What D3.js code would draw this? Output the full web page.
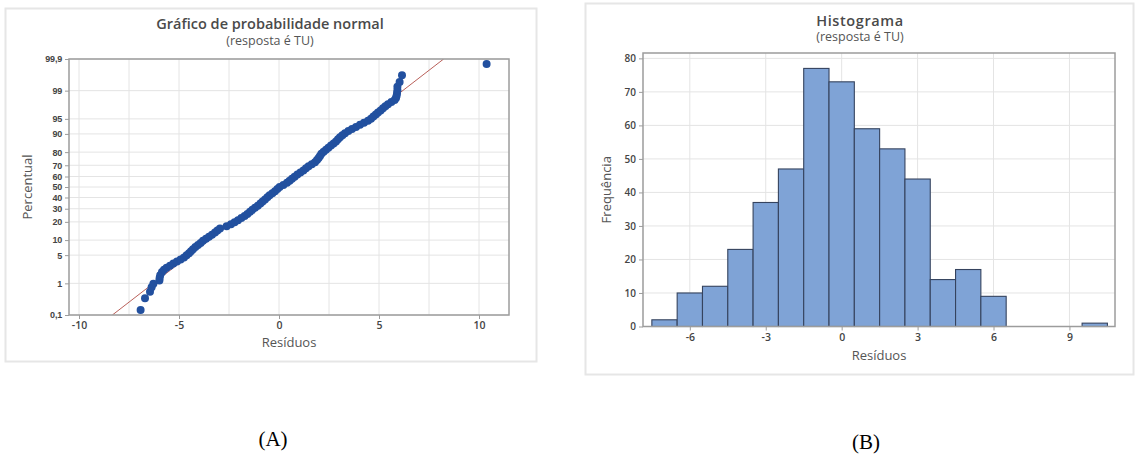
<!DOCTYPE html>
<html>
<head>
<meta charset="utf-8">
<script src="https://cdn.jsdelivr.net/npm/d3@7"></script>
<style>
  body { margin: 0; background: #fff; }
  svg text { font-family: 'Open Sans', 'Noto Sans', sans-serif; }
  .caption { font-family: 'Liberation Serif', 'DejaVu Serif', serif !important; }
</style>
</head>
<body>
<svg id="chart" width="1137" height="460"></svg>
<script>
// normal probability plot: residuals, with their percent position
const probResid = [-6.92, -6.70, -6.45, -6.37, -6.28, -5.98, -5.97, -5.94, -5.85, -5.75,
  -5.62, -5.45, -5.28, -5.10, -4.92, -4.75, -4.62, -4.50, -4.40, -4.30,
  -4.18, -4.05, -3.92, -3.80, -3.65, -3.50, -3.35, -3.20, -3.08, -2.95,
  -2.62, -2.40, -2.22, -2.05, -1.88, -1.72, -1.58, -1.45, -1.33, -1.20,
  -1.06, -0.93, -0.82, -0.70, -0.58, -0.47, -0.33, -0.20, -0.08, 0.03,
  0.22, 0.40, 0.53, 0.65, 0.78, 0.92, 1.07, 1.22, 1.35, 1.48,
  1.64, 1.80, 1.90, 1.98, 2.05, 2.12, 2.23, 2.35, 2.47, 2.60,
  2.73, 2.85, 2.95, 3.05, 3.17, 3.30, 3.47, 3.65, 3.85, 4.05,
  4.25, 4.45, 4.60, 4.72, 4.84, 4.95, 5.08, 5.20, 5.32, 5.45,
  5.62, 5.78, 5.85, 5.88, 5.90, 5.92, 5.92, 6.03, 6.15, 10.38];
const probPct = [0.15, 0.36, 0.57, 0.77, 0.98, 1.2, 1.4, 1.65, 2.0, 2.28,
  2.56, 2.87, 3.22, 3.59, 4.01, 4.46, 4.95, 5.48, 6.06, 6.68,
  7.35, 8.08, 8.85, 9.68, 10.56, 11.51, 12.51, 13.57, 14.69, 15.87,
  17.11, 18.41, 19.77, 21.19, 22.66, 24.2, 25.78, 27.43, 29.12, 30.85,
  32.64, 34.46, 36.32, 38.21, 40.13, 42.07, 44.04, 46.02, 48.01, 50,
  51.99, 53.98, 55.96, 57.93, 59.87, 61.79, 63.68, 65.54, 67.36, 69.15,
  70.88, 72.57, 74.22, 75.8, 77.34, 78.81, 80.23, 81.59, 82.89, 84.13,
  85.31, 86.43, 87.49, 88.49, 89.44, 90.32, 91.15, 91.92, 92.65, 93.32,
  93.94, 94.52, 95.05, 95.54, 95.99, 96.41, 96.78, 97.13, 97.44, 97.72,
  97.98, 98.21, 98.42, 98.61, 98.81, 99.02, 99.23, 99.44, 99.65, 99.85];
const fitMean = -0.05;
const fitSd = 2.68;
const probTicks = [0.1, 1, 5, 10, 20, 30, 40, 50, 60, 70, 80, 90, 95, 99, 99.9];
const probXTicks = [-10, -5, 0, 5, 10];
const probXGrid = [-10, -7.5, -5, -2.5, 0, 2.5, 5, 7.5, 10];

// histogram
const binCenters = [-7, -6, -5, -4, -3, -2, -1, 0, 1, 2, 3, 4, 5, 6, 7, 8, 9, 10];
const binCounts = [2, 10, 12, 23, 37, 47, 77, 73, 59, 53, 44, 14, 17, 9, 0, 0, 0, 1];
const histXTicks = [-6, -3, 0, 3, 6, 9];
const histYTicks = [0, 10, 20, 30, 40, 50, 60, 70, 80];

const svg = d3.select('#chart');
const textCol = '#444';
const gridCol = '#e4e4e4';
const frameCol = '#9c9c9c';

// inverse normal cdf (Acklam)
function probit(p) {
  const a = [-39.69683028665376, 220.9460984245205, -275.9285104469687, 138.357751867269, -30.66479806614716, 2.506628277459239];
  const b = [-54.47609879822406, 161.5858368580409, -155.6989798598866, 66.80131188771884, -13.28068155288572];
  const c = [-0.007784894002430293, -0.3223964580411365, -2.400758277161838, -2.549732539343734, 4.374664141464968, 2.938163982698783];
  const d = [0.007784695709041462, 0.3224671290700398, 2.445134137142996, 3.754408661907416];
  const plow = 0.02425;
  let q, r;
  if (p < plow) {
    q = Math.sqrt(-2 * Math.log(p));
    return (((((c[0] * q + c[1]) * q + c[2]) * q + c[3]) * q + c[4]) * q + c[5]) /
      ((((d[0] * q + d[1]) * q + d[2]) * q + d[3]) * q + 1);
  }
  if (p <= 1 - plow) {
    q = p - 0.5;
    r = q * q;
    return (((((a[0] * r + a[1]) * r + a[2]) * r + a[3]) * r + a[4]) * r + a[5]) * q /
      (((((b[0] * r + b[1]) * r + b[2]) * r + b[3]) * r + b[4]) * r + 1);
  }
  q = Math.sqrt(-2 * Math.log(1 - p));
  return -(((((c[0] * q + c[1]) * q + c[2]) * q + c[3]) * q + c[4]) * q + c[5]) /
    ((((d[0] * q + d[1]) * q + d[2]) * q + d[3]) * q + 1);
}

const fmtComma = (v) => String(v).replace('.', ',');

function styleAxis(ax, size) {
  ax.select('.domain').remove();
  ax.selectAll('line').attr('stroke', frameCol);
  ax.selectAll('text').attr('fill', textCol).attr('font-size', size).attr('font-weight', 600);
}

// ---------- panel A ----------
svg.append('rect')
  .attr('x', 5.5).attr('y', 8.5).attr('width', 531).attr('height', 353)
  .attr('fill', '#fff').attr('stroke', '#e6e6e6').attr('stroke-width', 2);

const pa = {left: 69, right: 509, top: 59, bottom: 315};
const xA = d3.scaleLinear().domain([-10.5, 11.5]).range([pa.left, pa.right]);
const zMax = probit(0.999);
const yA = d3.scaleLinear().domain([-zMax, zMax]).range([pa.bottom, pa.top]);
const yPct = (p) => yA(probit(p / 100));

const gA = svg.append('g');

gA.selectAll('.hgrid').data(probTicks).join('line')
  .attr('x1', pa.left).attr('x2', pa.right)
  .attr('y1', (d) => yPct(d)).attr('y2', (d) => yPct(d))
  .attr('stroke', gridCol).attr('stroke-width', 1);
gA.selectAll('.vgrid').data(probXGrid).join('line')
  .attr('x1', (d) => xA(d)).attr('x2', (d) => xA(d))
  .attr('y1', pa.top).attr('y2', pa.bottom)
  .attr('stroke', gridCol).attr('stroke-width', 1);

svg.append('clipPath').attr('id', 'clipA')
  .append('rect').attr('x', pa.left).attr('y', pa.top)
  .attr('width', pa.right - pa.left).attr('height', pa.bottom - pa.top);

// fitted line
gA.append('line')
  .attr('clip-path', 'url(#clipA)')
  .attr('x1', xA(fitMean - fitSd * zMax)).attr('y1', yA(-zMax))
  .attr('x2', xA(fitMean + fitSd * zMax)).attr('y2', yA(zMax))
  .attr('stroke', '#b9605a').attr('stroke-width', 1);

gA.selectAll('.pt').data(probResid).join('circle')
  .attr('cx', (d) => xA(d))
  .attr('cy', (d, i) => yPct(probPct[i]))
  .attr('r', 4)
  .attr('fill', '#22509f');

gA.append('rect')
  .attr('x', pa.left).attr('y', pa.top)
  .attr('width', pa.right - pa.left).attr('height', pa.bottom - pa.top)
  .attr('fill', 'none').attr('stroke', frameCol).attr('stroke-width', 1.5);

const axAy = gA.append('g')
  .attr('transform', `translate(${pa.left},0)`)
  .call(d3.axisLeft(yA).tickValues(probTicks.map((p) => probit(p / 100)))
    .tickFormat((d, i) => fmtComma(probTicks[i])).tickSize(4).tickSizeOuter(0));
const axAx = gA.append('g')
  .attr('transform', `translate(0,${pa.bottom})`)
  .call(d3.axisBottom(xA).tickValues(probXTicks).tickFormat((d) => String(d))
    .tickSize(4).tickSizeOuter(0));
styleAxis(axAy, 9);
styleAxis(axAx, 10.5);
// tight stack of labels near 50%: use a font with compact line box
axAy.selectAll('text').style('font-family', "'Liberation Sans', Arial, sans-serif")
  .attr('font-weight', 700).attr('letter-spacing', -0.2);

gA.append('text').attr('x', 270).attr('y', 29)
  .attr('text-anchor', 'middle').attr('font-size', 14.5).attr('font-weight', 600)
  .attr('fill', '#4a4a4a').text('Gráfico de probabilidade normal');
gA.append('text').attr('x', 270).attr('y', 45)
  .attr('text-anchor', 'middle').attr('font-size', 12.5)
  .attr('fill', '#555').text('(resposta é TU)');
gA.append('text').attr('x', (pa.left + pa.right) / 2).attr('y', 347)
  .attr('text-anchor', 'middle').attr('font-size', 13)
  .attr('fill', '#555').text('Resíduos');
gA.append('text')
  .attr('transform', `translate(32,${(pa.top + pa.bottom) / 2}) rotate(-90)`)
  .attr('text-anchor', 'middle').attr('font-size', 13)
  .attr('fill', '#555').text('Percentual');

// ---------- panel B ----------
svg.append('rect')
  .attr('x', 585.5).attr('y', 3.5).attr('width', 548).attr('height', 371)
  .attr('fill', '#fff').attr('stroke', '#e6e6e6').attr('stroke-width', 2);

const pb = {left: 643, right: 1115, top: 53, bottom: 326.5};
const xB = d3.scaleLinear().domain([-7.85, 10.8]).range([pb.left, pb.right]);
const yB = d3.scaleLinear().domain([0, 81.6]).range([pb.bottom, pb.top]);

const gB = svg.append('g');

gB.selectAll('.hgrid').data(histYTicks.slice(1)).join('line')
  .attr('x1', pb.left).attr('x2', pb.right)
  .attr('y1', (d) => yB(d)).attr('y2', (d) => yB(d))
  .attr('stroke', gridCol).attr('stroke-width', 1);
gB.selectAll('.vgrid').data(histXTicks).join('line')
  .attr('x1', (d) => xB(d)).attr('x2', (d) => xB(d))
  .attr('y1', pb.top).attr('y2', pb.bottom)
  .attr('stroke', gridCol).attr('stroke-width', 1);

gB.selectAll('.bar').data(binCenters.filter((c, i) => binCounts[i] > 0)).join('rect')
  .attr('x', (d) => xB(d - 0.5))
  .attr('width', (d) => xB(d + 0.5) - xB(d - 0.5))
  .attr('y', (d) => yB(binCounts[binCenters.indexOf(d)]))
  .attr('height', (d) => yB(0) - yB(binCounts[binCenters.indexOf(d)]))
  .attr('fill', '#7fa3d6').attr('stroke', '#35435e').attr('stroke-width', 1.1);

gB.append('rect')
  .attr('x', pb.left).attr('y', pb.top)
  .attr('width', pb.right - pb.left).attr('height', pb.bottom - pb.top)
  .attr('fill', 'none').attr('stroke', frameCol).attr('stroke-width', 1.5);

const axBy = gB.append('g')
  .attr('transform', `translate(${pb.left},0)`)
  .call(d3.axisLeft(yB).tickValues(histYTicks).tickSize(4).tickSizeOuter(0));
const axBx = gB.append('g')
  .attr('transform', `translate(0,${pb.bottom})`)
  .call(d3.axisBottom(xB).tickValues(histXTicks).tickFormat((d) => String(d))
    .tickSize(4).tickSizeOuter(0));
styleAxis(axBy, 10);
styleAxis(axBx, 10.5);

gB.append('text').attr('x', 860).attr('y', 26)
  .attr('text-anchor', 'middle').attr('font-size', 14.5).attr('font-weight', 600)
  .attr('fill', '#4a4a4a').attr('letter-spacing', 0.6).text('Histograma');
gB.append('text').attr('x', 860).attr('y', 41)
  .attr('text-anchor', 'middle').attr('font-size', 12.5)
  .attr('fill', '#555').text('(resposta é TU)');
gB.append('text').attr('x', (pb.left + pb.right) / 2).attr('y', 360)
  .attr('text-anchor', 'middle').attr('font-size', 13)
  .attr('fill', '#555').text('Resíduos');
gB.append('text')
  .attr('transform', `translate(611,${(pb.top + pb.bottom) / 2}) rotate(-90)`)
  .attr('text-anchor', 'middle').attr('font-size', 13)
  .attr('fill', '#555').text('Frequência');

// captions
svg.append('text').attr('class', 'caption').attr('x', 273).attr('y', 446)
  .attr('text-anchor', 'middle').attr('font-size', 21).attr('fill', '#000').text('(A)');
svg.append('text').attr('class', 'caption').attr('x', 866).attr('y', 449)
  .attr('text-anchor', 'middle').attr('font-size', 21).attr('fill', '#000').text('(B)');
</script>
</body>
</html>
